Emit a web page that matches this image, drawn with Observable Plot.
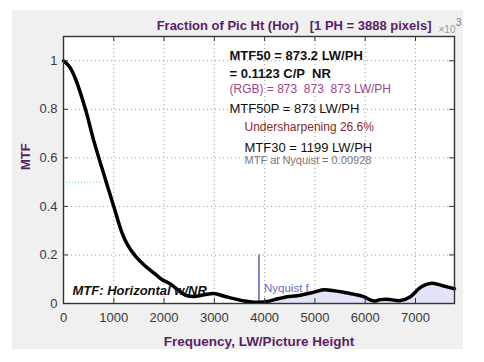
<!DOCTYPE html>
<html><head><meta charset="utf-8">
<script src="https://cdn.jsdelivr.net/npm/d3@7"></script>
<script src="https://cdn.jsdelivr.net/npm/@observablehq/plot@0.6"></script>
<style>
body{margin:0;background:#fff;}
#wrap{position:relative;width:484px;height:362px;overflow:hidden;}
#panel{position:absolute;left:12px;top:10px;width:451px;height:339px;background:#f0f0f0;}
#chart{position:absolute;left:0;top:0;}
</style></head><body>
<div id="wrap"><div id="panel"></div><div id="chart"></div></div>
<script>
// Data
const freq = [0, 120, 239, 437, 603, 850, 1000, 1166, 1266, 1431, 1597, 1800, 1950, 2127, 2300, 2420, 2592, 2800, 2990, 3200, 3388, 3600, 3786, 3888, 4051, 4200, 4380, 4712, 4950, 5175, 5400, 5573, 5800, 5970, 6169, 6300, 6435, 6700, 6899, 7097, 7330, 7561, 7776];
const mtf  = [1.0, 0.975, 0.925, 0.8, 0.67, 0.5, 0.4, 0.29, 0.245, 0.195, 0.16, 0.125, 0.1, 0.08, 0.052, 0.035, 0.029, 0.036, 0.041, 0.03, 0.02, 0.01, 0.005, 0.005, 0.008, 0.016, 0.025, 0.034, 0.045, 0.057, 0.052, 0.046, 0.037, 0.028, 0.01, 0.016, 0.018, 0.012, 0.028, 0.066, 0.083, 0.072, 0.061];
const xTicks = [0, 1000, 2000, 3000, 4000, 5000, 6000, 7000];
const yTicks = [0, 0.2, 0.4, 0.6, 0.8, 1];
const xDomain = [0, 7776];
const yDomain = [0, 1.1];
const nyquist = 3888;
const nyquistMarkerTop = 0.2;
const mtf50Level = 0.5;
const mtf50GuideEnd = 740;
const titleText = "Fraction of Pic Ht (Hor)   [1 PH = 3888 pixels]";
const expBase = "×10";
const expPower = "3";
const xLabel = "Frequency, LW/Picture Height";
const yLabel = "MTF";
const notes = [
  "MTF50 = 873.2 LW/PH",
  "= 0.1123 C/P  NR",
  "(RGB) = 873  873  873 LW/PH",
  "MTF50P = 873 LW/PH",
  "Undersharpening 26.6%",
  "MTF30 = 1199 LW/PH",
  "MTF at Nyquist = 0.00928"
];
const curveLabel = "MTF: Horizontal w/NR";
const nyquistLabel = "Nyquist f";

const data = freq.map((f, i) => ({f, m: mtf[i]}));
const purple = "#5a1e66";
const W = 484, H = 362, ML = 63, MR = 30, MT = 36, MB = 59;
const plotW = W - ML - MR, plotH = H - MT - MB, tickLen = 5;
const note = (t, dx, dy, o) => Plot.text([t], {frameAnchor: "top-left", dx, dy, textAnchor: "start", lineAnchor: "middle", fontSize: 13, fill: "#111", ...o});

const plot = Plot.plot({
  width: W, height: H,
  marginLeft: ML, marginRight: MR, marginTop: MT, marginBottom: MB,
  style: {background: "transparent", fontFamily: "'Liberation Sans', Arial, sans-serif", fontSize: "13px", color: "#3a3a3a", whiteSpace: "pre"},
  x: {domain: xDomain},
  y: {domain: yDomain},
  marks: [
    Plot.frame({fill: "white", stroke: null}),
    Plot.gridX(xTicks, {stroke: "#999", strokeOpacity: 1, strokeDasharray: "1,3"}),
    Plot.gridY(yTicks, {stroke: "#999", strokeOpacity: 1, strokeDasharray: "1,3"}),
    Plot.areaY(data.filter(d => d.f >= nyquist), {x: "f", y: "m", fill: "#e2e2f8", curve: "catmull-rom"}),
    Plot.ruleY([mtf50Level], {x1: 0, x2: mtf50GuideEnd, stroke: "#5adada", strokeDasharray: "1,2"}),
    Plot.ruleX([nyquist], {y1: 0, y2: nyquistMarkerTop, stroke: "#8484d0", strokeWidth: 2}),
    Plot.line(data, {x: "f", y: "m", stroke: "black", strokeWidth: 3.5, curve: "catmull-rom"}),
    // tick labels
    Plot.axisX(xTicks, {anchor: "bottom", tickSize: 0, tickPadding: 9, fontSize: 13, label: null, tickFormat: d => String(d)}),
    Plot.axisY(yTicks, {anchor: "left", tickSize: 0, tickPadding: 6, fontSize: 13, label: null, tickFormat: d => String(d)}),
    // inward tick marks
    Plot.tickX(xTicks, {x: d => d, stroke: "#333", insetTop: plotH - tickLen}),
    Plot.tickX(xTicks, {x: d => d, stroke: "#333", insetBottom: plotH - tickLen}),
    Plot.tickY(yTicks, {y: d => d, stroke: "#333", insetRight: plotW - tickLen}),
    Plot.tickY(yTicks, {y: d => d, stroke: "#333", insetLeft: plotW - tickLen}),
    Plot.frame({stroke: "#333", strokeWidth: 1.4}),
    // labels
    Plot.text([xLabel], {frameAnchor: "bottom", dy: 38, fill: purple, fontWeight: "bold", fontSize: 13.5, lineAnchor: "middle"}),
    Plot.text([yLabel], {frameAnchor: "left", dx: -38, rotate: -90, fill: purple, fontWeight: "bold", fontSize: 13, lineAnchor: "middle"}),
    Plot.text([titleText], {frameAnchor: "top-right", dx: -23, dy: -11, fill: purple, fontWeight: "bold", fontSize: 13, textAnchor: "end", lineAnchor: "middle"}),
    Plot.text([expBase], {frameAnchor: "top-right", dx: 1, dy: -7, fill: "#999", fontSize: 10, textAnchor: "end", lineAnchor: "middle"}),
    Plot.text([expPower], {frameAnchor: "top-right", dx: 7, dy: -14, fill: "#777", fontSize: 10, textAnchor: "end", lineAnchor: "middle"}),
    // annotations
    note(notes[0], 166, 19, {fontWeight: "bold"}),
    note(notes[1], 166, 37, {fontWeight: "bold"}),
    note(notes[2], 166, 53, {fill: "#a0448a", fontSize: 12}),
    note(notes[3], 166, 72),
    note(notes[4], 181, 91, {fill: "#8b2828", fontSize: 12}),
    note(notes[5], 181, 111),
    note(notes[6], 181, 124, {fill: "#777", fontSize: 11}),
    Plot.text([curveLabel], {frameAnchor: "bottom-left", dx: 9, dy: -13, fontWeight: "bold", fontStyle: "italic", fontSize: 13, fill: "#111", textAnchor: "start", lineAnchor: "middle"}),
    Plot.text([nyquistLabel], {x: () => nyquist, frameAnchor: "bottom", dx: 5, dy: -15, fill: "#6a6ac0", fontSize: 11.5, textAnchor: "start", lineAnchor: "middle"})
  ]
});
document.getElementById("chart").appendChild(plot);
</script>
</body></html>
